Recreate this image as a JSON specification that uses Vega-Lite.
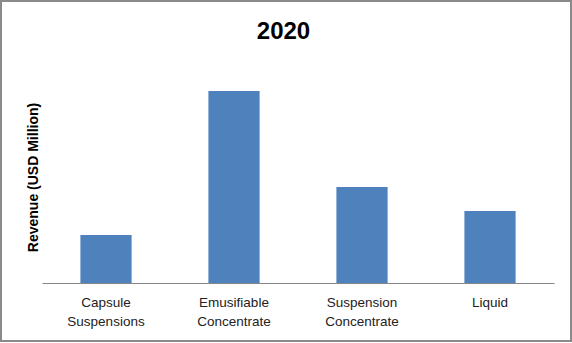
{
  "$schema": "https://vega.github.io/schema/vega-lite/v6.json",
  "width": 570,
  "height": 340,
  "autosize": "none",
  "padding": {"left": 1, "top": 1, "right": 1, "bottom": 2},
  "background": "#ffffff",
  "title": {
    "text": "2020",
    "font": "Liberation Sans",
    "fontSize": 24,
    "fontWeight": "bold",
    "color": "#000000",
    "anchor": "middle",
    "frame": "group",
    "baseline": "alphabetic",
    "offset": 0,
    "dy": 62,
    "dx": -2.5
  },
  "data": {
    "values": [
      {"segment": "Capsule Suspensions", "revenue": 2},
      {"segment": "Emusifiable Concentrate", "revenue": 8},
      {"segment": "Suspension Concentrate", "revenue": 4},
      {"segment": "Liquid", "revenue": 3}
    ]
  },
  "mark": {"type": "bar", "color": "#4F81BD"},
  "encoding": {
    "x": {
      "field": "segment",
      "type": "nominal",
      "sort": null,
      "scale": {"range": [41, 553], "paddingInner": 0.6, "paddingOuter": 0.3},
      "axis": {
        "title": null,
        "labelAngle": 0,
        "labelExpr": "split(datum.label, ' ')",
        "labelFont": "Liberation Sans",
        "labelFontSize": 13.5,
        "labelLineHeight": 19,
        "labelColor": "#222222",
        "labelPadding": 12,
        "ticks": false,
        "domainColor": "#868686",
        "domainWidth": 1,
        "offset": -58,
        "grid": false
      }
    },
    "y": {
      "field": "revenue",
      "type": "quantitative",
      "scale": {"domain": [0, 10], "range": [282, 42], "nice": false},
      "axis": {
        "title": "Revenue (USD Million)",
        "titleFont": "Liberation Sans",
        "titleFontSize": 14,
        "titleFontWeight": "bold",
        "titleColor": "#000000",
        "titleBaseline": "alphabetic",
        "titleX": 36,
        "titleY": 176,
        "labels": false,
        "ticks": false,
        "domain": false,
        "grid": false
      }
    }
  },
  "config": {
    "view": {"stroke": "#8a8a8a", "strokeWidth": 2}
  }
}
